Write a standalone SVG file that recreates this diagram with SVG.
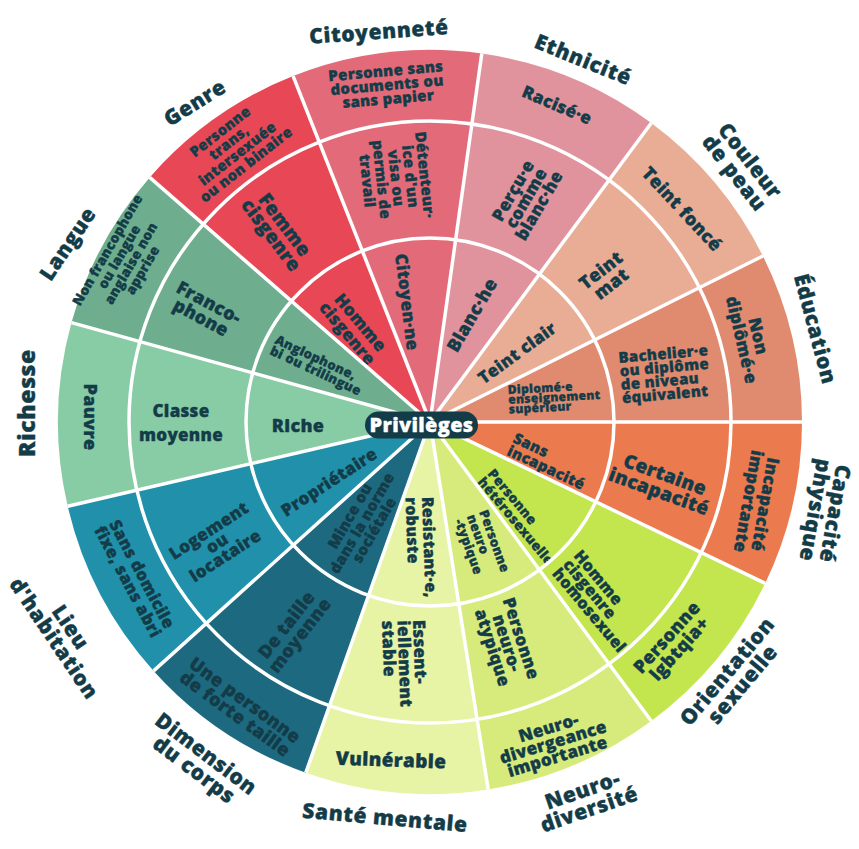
<svg xmlns="http://www.w3.org/2000/svg" width="859" height="849" viewBox="0 0 859 849">
<style>
text{font-family:"Open Sans","Liberation Sans",sans-serif;font-weight:800;fill:#133c48;stroke:#133c48;stroke-width:0.35;stroke-linejoin:round;text-anchor:middle;letter-spacing:0.3px}
.l{text-anchor:start}
.cat{font-size:21px;letter-spacing:0.6px}
.s12{font-size:12px}.s13{font-size:13px}.s135{font-size:13.5px}.s145{font-size:14.5px}.s15{font-size:15px}.s16{font-size:16px}.s165{font-size:16.5px}.s17{font-size:17px}.s18{font-size:18px}.s19{font-size:19px}
.sep{fill:none;stroke:#fff;stroke-width:3.5}
</style>
<rect width="859" height="849" fill="#fff"/>

<g id="education">
<path d="M430 422 L802 422 A372 372 0 0 0 762.9 256 Z" fill="#e08a70"/>
<text class="cat" transform="translate(815,329) rotate(75)" y="7">Éducation</text>
<text class="s17" transform="translate(750,338) rotate(77)"><tspan x="0" dy="-2.5">Non</tspan><tspan x="0" dy="17">diplômé·e</tspan></text>
<text class="s15 l" transform="translate(619,363) rotate(-5)"><tspan x="0" dy="0">Bachelier·e</tspan><tspan x="0" dy="13.5">ou diplôme</tspan><tspan x="0" dy="13.5">de niveau</tspan><tspan x="0" dy="13.5">équivalent</tspan></text>
<text class="s12 l" transform="translate(508,394) rotate(-3)"><tspan x="0" dy="0">Diplomé·e</tspan><tspan x="0" dy="9.8">enseignement</tspan><tspan x="0" dy="9.8">supérieur</tspan></text>
</g>

<g id="couleur-de-peau">
<path d="M430 422 L762.9 256 A372 372 0 0 0 651.3 123 Z" fill="#e9ad95"/>
<text class="cat" transform="translate(742,167) rotate(52)"><tspan x="0" dy="-3">Couleur</tspan><tspan x="0" dy="20">de peau</tspan></text>
<text class="s18" transform="translate(682,209) rotate(47)" y="6.3">Teint foncé</text>
<text class="s18" transform="translate(606,277) rotate(-38)"><tspan x="0" dy="-2.2">Teint</tspan><tspan x="0" dy="17">mat</tspan></text>
<text class="s17" transform="translate(517,353) rotate(-36)" y="6">Teint clair</text>
</g>

<g id="ethnicite">
<path d="M430 422 L651.3 123 A372 372 0 0 0 481.8 53.6 Z" fill="#e0939d"/>
<text class="cat" transform="translate(583,60) rotate(22)" y="7">Ethnicité</text>
<text class="s17" transform="translate(557,105) rotate(23)" y="6">Racisé·e</text>
<text class="s17" transform="translate(526,198) rotate(-60)"><tspan x="0" dy="-9">Perçu·e</tspan><tspan x="0" dy="15">comme</tspan><tspan x="0" dy="15">blanc·he</tspan></text>
<text class="s18" transform="translate(472,315) rotate(-60)" y="6.3">Blanc·he</text>
</g>

<g id="citoyennete">
<path d="M430 422 L481.8 53.6 A372 372 0 0 0 293.1 76.1 Z" fill="#e36b79"/>
<text class="cat" transform="translate(379,32) rotate(-4)" y="7">Citoyenneté</text>
<text class="s15" transform="translate(387,85) rotate(-5)"><tspan x="0" dy="-8.8">Personne sans</tspan><tspan x="0" dy="14">documents ou</tspan><tspan x="0" dy="14">sans papier</tspan></text>
<text class="s15" transform="translate(396,178) rotate(84)"><tspan x="0" dy="-23.8">Détenteur·</tspan><tspan x="0" dy="14.5">ice d'un</tspan><tspan x="0" dy="14.5">visa ou</tspan><tspan x="0" dy="14.5">permis de</tspan><tspan x="0" dy="14.5">travail</tspan></text>
<text class="s17" transform="translate(407,302) rotate(83)" y="6">Citoyen·ne</text>
</g>

<g id="genre">
<path d="M430 422 L293.1 76.1 A372 372 0 0 0 149.7 177.4 Z" fill="#e84855"/>
<text class="cat" transform="translate(195,103) rotate(-32)" y="7">Genre</text>
<text class="s145" transform="translate(233,148) rotate(-38)"><tspan x="0" dy="-15.9">Personne</tspan><tspan x="0" dy="14">trans,</tspan><tspan x="0" dy="14">intersexuée</tspan><tspan x="0" dy="14">ou non binaire</tspan></text>
<text class="s19" transform="translate(278,230) rotate(53)"><tspan x="0" dy="-1.9">Femme</tspan><tspan x="0" dy="17">cisgenre</tspan></text>
<text class="s17" transform="translate(354,328) rotate(50)"><tspan x="0" dy="-2.5">Homme</tspan><tspan x="0" dy="17">cisgenre</tspan></text>
</g>

<g id="langue">
<path d="M430 422 L149.7 177.4 A372 372 0 0 0 71.5 322.6 Z" fill="#6eae8e"/>
<text class="cat" transform="translate(68,244) rotate(-56)" y="7">Langue</text>
<text class="s135" transform="translate(125,260) rotate(-60)"><tspan x="0" dy="-15.5">Non francophone</tspan><tspan x="0" dy="13.5">ou langue</tspan><tspan x="0" dy="13.5">anglaise non</tspan><tspan x="0" dy="13.5">apprise</tspan></text>
<text class="s18" transform="translate(205,310) rotate(28)"><tspan x="0" dy="-2.2">Franco-</tspan><tspan x="0" dy="17">phone</tspan></text>
<text class="s13 l" transform="translate(274,343) rotate(25)"><tspan x="0" dy="0">Anglophone,</tspan><tspan x="0" dy="12">bi ou trilingue</tspan></text>
</g>

<g id="richesse">
<path d="M430 422 L71.5 322.6 A372 372 0 0 0 67.7 506.3 Z" fill="#88cca6"/>
<text class="cat" style="font-size:23px" transform="translate(27,403) rotate(-90)" y="8">Richesse</text>
<text class="s18" transform="translate(90,417) rotate(90)" y="6.3">Pauvre</text>
<text class="s17" transform="translate(181,423)"><tspan x="0" dy="-5.8">Classe</tspan><tspan x="0" dy="23.5">moyenne</tspan></text>
<text class="s18" transform="translate(298,426)" y="6.3">Riche</text>
</g>

<g id="lieu-habitation">
<path d="M430 422 L67.7 506.3 A372 372 0 0 0 153.6 670.9 Z" fill="#2191ab"/>
<text class="cat" transform="translate(62,633) rotate(56)"><tspan x="0" dy="-3">Lieu</tspan><tspan x="0" dy="20">d'habitation</tspan></text>
<text class="s165" transform="translate(135,578) rotate(62)"><tspan x="0" dy="-2.2">Sans domicile</tspan><tspan x="0" dy="16">fixe, sans abri</tspan></text>
<text class="s17" transform="translate(217,543) rotate(-33)"><tspan x="0" dy="-9">Logement</tspan><tspan x="0" dy="15">ou</tspan><tspan x="0" dy="15">locataire</tspan></text>
<text class="s17" transform="translate(329,482) rotate(-33)" y="6">Propriétaire</text>
</g>

<g id="dimension-du-corps">
<path d="M430 422 L153.6 670.9 A372 372 0 0 0 305.8 772.7 Z" fill="#1d6a80"/>
<text class="cat" transform="translate(200,762) rotate(37)"><tspan x="0" dy="-3">Dimension</tspan><tspan x="0" dy="20">du corps</tspan></text>
<text class="s18" transform="translate(240,707) rotate(36)"><tspan x="0" dy="-2.2">Une personne</tspan><tspan x="0" dy="17">de forte taille</tspan></text>
<text class="s18" transform="translate(293,630) rotate(-52)"><tspan x="0" dy="-2.2">De taille</tspan><tspan x="0" dy="17">moyenne</tspan></text>
<text class="s15" transform="translate(362,523) rotate(-60)"><tspan x="0" dy="-8.8">Mince ou</tspan><tspan x="0" dy="14">dans la norme</tspan><tspan x="0" dy="14">sociétale</tspan></text>
</g>

<g id="sante-mentale">
<path d="M430 422 L305.8 772.7 A372 372 0 0 0 488.2 789.4 Z" fill="#e7f3a5"/>
<text class="cat" transform="translate(385,818) rotate(5)" y="7">Santé mentale</text>
<text class="s19" transform="translate(391,760) rotate(2)" y="6.6">Vulnérable</text>
<text class="s17 l" transform="translate(413,620) rotate(88)"><tspan x="0" dy="0">Essent-</tspan><tspan x="0" dy="15.5">iellement</tspan><tspan x="0" dy="15.5">stable</tspan></text>
<text class="s16 l" transform="translate(422,497) rotate(88)"><tspan x="0" dy="0">Resistant·e,</tspan><tspan x="0" dy="16.5">robuste</tspan></text>
</g>

<g id="neurodiversite">
<path d="M430 422 L488.2 789.4 A372 372 0 0 0 651.3 721 Z" fill="#d7eb7c"/>
<text class="cat" transform="translate(586,800) rotate(-19)"><tspan x="0" dy="-3">Neuro-</tspan><tspan x="0" dy="20">diversité</tspan></text>
<text class="s17" transform="translate(553,742) rotate(-17)"><tspan x="0" dy="-9">Neuro-</tspan><tspan x="0" dy="15">divergeance</tspan><tspan x="0" dy="15">importante</tspan></text>
<text class="s17" transform="translate(507,643) rotate(72)"><tspan x="0" dy="-9">Personne</tspan><tspan x="0" dy="15">neuro-</tspan><tspan x="0" dy="15">atypique</tspan></text>
<text class="s13 l" transform="translate(479,512) rotate(70)"><tspan x="0" dy="0">Personne</tspan><tspan x="0" dy="13">neuro</tspan><tspan x="0" dy="13">-typique</tspan></text>
</g>

<g id="orientation-sexuelle">
<path d="M430 422 L651.3 721 A372 372 0 0 0 765.2 583.3 Z" fill="#c3e54d"/>
<text class="cat" transform="translate(735,678) rotate(-50)"><tspan x="0" dy="-3">Orientation</tspan><tspan x="0" dy="20">sexuelle</tspan></text>
<text class="s18" transform="translate(673,643) rotate(-48)"><tspan x="0" dy="-2.2">Personne</tspan><tspan x="0" dy="17">lgbtqia+</tspan></text>
<text class="s16 l" transform="translate(573,556) rotate(50)"><tspan x="0" dy="0">Homme</tspan><tspan x="0" dy="14">cisgenre</tspan><tspan x="0" dy="14">homosexuel</tspan></text>
<text class="s135 l" transform="translate(487,474) rotate(50)"><tspan x="0" dy="0">Personne</tspan><tspan x="0" dy="13">hétérosexuelle</tspan></text>
</g>

<g id="capacite-physique">
<path d="M430 422 L765.2 583.3 A372 372 0 0 0 802 422 Z" fill="#ec7a4f"/>
<text class="cat" transform="translate(825,512) rotate(100)"><tspan x="0" dy="-3">Capacité</tspan><tspan x="0" dy="20">physique</tspan></text>
<text class="s17" transform="translate(757,503) rotate(100)"><tspan x="0" dy="-2.5">Incapacité</tspan><tspan x="0" dy="17">importante</tspan></text>
<text class="s19" transform="translate(662,483) rotate(20)"><tspan x="0" dy="-2.4">Certaine</tspan><tspan x="0" dy="18">incapacité</tspan></text>
<text class="s15 l" transform="translate(512,442) rotate(25)"><tspan x="0" dy="0">Sans</tspan><tspan x="0" dy="14">incapacité</tspan></text>
</g>

<g id="separateurs">
<circle class="sep" cx="430" cy="422" r="184"/>
<circle class="sep" cx="430" cy="422" r="301"/>
<path class="sep" d="M430 422 L802 422 M430 422 L762.9 256 M430 422 L651.3 123 M430 422 L481.8 53.6 M430 422 L293.1 76.1 M430 422 L149.7 177.4 M430 422 L71.5 322.6 M430 422 L67.7 506.3 M430 422 L153.6 670.9 M430 422 L305.8 772.7 M430 422 L488.2 789.4 M430 422 L651.3 721 M430 422 L765.2 583.3"/>
</g>

<g id="privileges">
<rect x="365" y="411.5" width="113" height="27" rx="13.5" fill="#133c48"/>
<text style="font-size:20px;fill:#fff;stroke:#fff;stroke-width:0.3" x="421.5" y="432">Privilèges</text>
</g>
</svg>
